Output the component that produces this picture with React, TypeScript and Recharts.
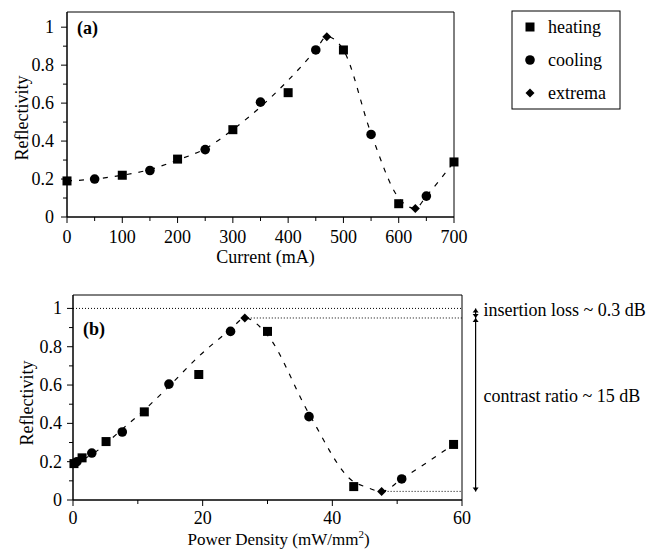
import { ComposedChart, Line, Scatter, XAxis, YAxis, ReferenceArea, ReferenceLine } from 'recharts'

// measured points (reflectivity shared between both panels)
const heatingCurrent = [0, 100, 200, 300, 400, 500, 600, 700]
const heatingPower = [0.15, 1.4, 5.1, 11.0, 19.4, 30.0, 43.3, 58.7]
const heatingRefl = [0.19, 0.22, 0.305, 0.46, 0.655, 0.88, 0.07, 0.29]

const coolingCurrent = [50, 150, 250, 350, 450, 550, 650]
const coolingPower = [0.6, 2.9, 7.6, 14.8, 24.3, 36.4, 50.7]
const coolingRefl = [0.2, 0.245, 0.355, 0.605, 0.88, 0.435, 0.11]

const extremaCurrent = [470, 630]
const extremaPower = [26.5, 47.6]
const extremaRefl = [0.95, 0.045]

// dashed guide curves
const guideCurrent = [0, 50, 100, 150, 200, 250, 300, 350, 400, 450, 470, 500, 550, 600, 630, 650, 700]
const guideCurrentRefl = [0.19, 0.2, 0.22, 0.25, 0.3, 0.36, 0.46, 0.58, 0.72, 0.88, 0.95, 0.88, 0.44, 0.1, 0.045, 0.11, 0.29]
const guidePower = [0, 3, 7.6, 11, 15, 19.4, 24.3, 26.5, 30, 36.4, 43.3, 45, 47.6, 50.7, 58.7]
const guidePowerRefl = [0.19, 0.24, 0.37, 0.47, 0.6, 0.75, 0.89, 0.95, 0.86, 0.45, 0.095, 0.07, 0.045, 0.11, 0.29]

const currentTicks = [0, 50, 100, 150, 200, 250, 300, 350, 400, 450, 500, 550, 600, 650, 700]
const powerTicks = [0, 10, 20, 30, 40, 50, 60]
const reflTicks = [0, 0.1, 0.2, 0.3, 0.4, 0.5, 0.6, 0.7, 0.8, 0.9, 1]

const FONT = '"Liberation Serif", "Times New Roman", serif'

const pts = (xs: number[], ys: number[]) => xs.map((x, i) => ({ x, y: ys[i] }))

const Square = (p: any) => <rect x={p.cx - 4.5} y={p.cy - 4.5} width={9} height={9} fill="#000" />
const Dot = (p: any) => <circle cx={p.cx} cy={p.cy} r={4.8} fill="#000" />
const Diamond = (p: any) => (
  <polygon points={`${p.cx},${p.cy - 4.5} ${p.cx + 4.5},${p.cy} ${p.cx},${p.cy + 4.5} ${p.cx - 4.5},${p.cy}`} fill="#000" />
)

function XTick(props: any) {
  const { x, y, payload, isMajor, dy } = props
  const major = isMajor(payload.value)
  return (
    <g>
      <line x1={x} y1={y} x2={x} y2={y + (major ? 6 : 4)} stroke="#000" />
      {major && (
        <text x={x} y={y + dy} textAnchor="middle" fontSize={18} fontFamily={FONT} fill="#000">{payload.value}</text>
      )}
    </g>
  )
}

function YTick(props: any) {
  const { x, y, payload, gap } = props
  const major = Math.round(payload.value * 10) % 2 === 0
  return (
    <g>
      <line x1={x - (major ? 6 : 4)} y1={y} x2={x} y2={y} stroke="#000" />
      {major && (
        <text x={x - gap} y={y + 6} textAnchor="end" fontSize={18} fontFamily={FONT} fill="#000">{payload.value}</text>
      )}
    </g>
  )
}

function Arrow(props: any) {
  const { x1, y1, y2, text, textDy } = props
  const top = Math.min(y1, y2)
  const bot = Math.max(y1, y2)
  return (
    <g>
      <line x1={x1} y1={top} x2={x1} y2={bot} stroke="#000" strokeWidth={1.2} />
      <polygon points={`${x1},${top} ${x1 - 3},${top + 4} ${x1 + 3},${top + 4}`} fill="#000" />
      <polygon points={`${x1},${bot} ${x1 - 3},${bot - 4} ${x1 + 3},${bot - 4}`} fill="#000" />
      <text x={x1 + 8} y={(top + bot) / 2 + textDy} fontSize={18} fontFamily={FONT} fill="#000">{text}</text>
    </g>
  )
}

const yLabel = (dx: number, dy: number) => (p: any) => {
  const { x, y, height } = p.viewBox
  const cx = x + dx
  const cy = y + height / 2 + dy
  return (
    <text x={cx} y={cy} transform={`rotate(-90 ${cx} ${cy})`} textAnchor="middle" fontSize={18} fontFamily={FONT} fill="#000">
      Reflectivity
    </text>
  )
}

const tag = (t: string, dx: number, dy: number) => (p: any) => (
  <text x={p.viewBox.x + dx} y={p.viewBox.y + dy} fontSize={18} fontWeight="bold" fontFamily={FONT} fill="#000">{t}</text>
)

function Legend() {
  const rows = [
    { name: 'heating', Mark: Square },
    { name: 'cooling', Mark: Dot },
    { name: 'extrema', Mark: Diamond },
  ]
  return (
    <svg width={110} height={100} style={{ position: 'absolute', left: 511, top: 10 }}>
      <rect x={1} y={1} width={108} height={98} fill="#fff" stroke="#000" />
      {rows.map((r, i) => (
        <g key={r.name}>
          <r.Mark cx={19} cy={17 + i * 33} />
          <text x={37} y={23 + i * 33} fontSize={18} fontFamily={FONT} fill="#000">{r.name}</text>
        </g>
      ))}
    </svg>
  )
}

export default function App() {
  return (
    <div style={{ position: 'absolute', left: 0, top: 0, width: 660, height: 552, background: '#fff' }}>
      <div style={{ position: 'absolute', left: 0, top: 0 }}>
        <ComposedChart width={470} height={276} margin={{ top: 12, right: 16, bottom: 19, left: 17 }}>
          <XAxis
            type="number"
            dataKey="x"
            domain={[0, 700]}
            ticks={currentTicks}
            interval={0}
            tickSize={0}
            tickMargin={0}
            tickLine={false}
            axisLine={{ stroke: '#000' }}
            height={40}
            tick={(p: any) => <XTick {...p} dy={26} isMajor={(v: number) => v % 100 === 0} />}
            label={(p: any) => (
              <text x={p.viewBox.x + p.viewBox.width / 2 + 5} y={p.viewBox.y + 46} textAnchor="middle" fontSize={18} fontFamily={FONT} fill="#000">
                Current (mA)
              </text>
            )}
          />
          <YAxis
            type="number"
            dataKey="y"
            domain={[0, 1.08]}
            ticks={reflTicks}
            interval={0}
            tickSize={0}
            tickMargin={0}
            tickLine={false}
            axisLine={{ stroke: '#000' }}
            width={50}
            tick={(p: any) => <YTick {...p} gap={13} />}
            label={yLabel(11, 3.5)}
          />
          <ReferenceArea x1={0} x2={700} y1={0} y2={1.08} fill="none" stroke="#000" ifOverflow="visible" label={tag('(a)', 10, 22)} />
          <Line data={pts(guideCurrent, guideCurrentRefl)} dataKey="y" type="monotone" stroke="#000" strokeWidth={1.2} strokeDasharray="5 7" dot={false} activeDot={false} isAnimationActive={false} />
          <Scatter data={pts(heatingCurrent, heatingRefl)} shape={Square} isAnimationActive={false} />
          <Scatter data={pts(coolingCurrent, coolingRefl)} shape={Dot} isAnimationActive={false} />
          <Scatter data={pts(extremaCurrent, extremaRefl)} shape={Diamond} isAnimationActive={false} />
        </ComposedChart>
      </div>

      <Legend />

      <div style={{ position: 'absolute', left: 0, top: 280 }}>
        <ComposedChart width={660} height={272} margin={{ top: 15, right: 198, bottom: 12, left: 23 }}>
          <XAxis
            type="number"
            dataKey="x"
            domain={[0, 60]}
            ticks={powerTicks}
            interval={0}
            tickSize={0}
            tickMargin={0}
            tickLine={false}
            axisLine={{ stroke: '#000' }}
            height={40}
            tick={(p: any) => <XTick {...p} dy={24} isMajor={(v: number) => v % 20 === 0} />}
            label={(p: any) => (
              <text x={p.viewBox.x + p.viewBox.width / 2 + 11} y={p.viewBox.y + 45} textAnchor="middle" fontSize={17} fontFamily={FONT} fill="#000">
                Power Density (mW/mm<tspan fontSize={11} dy={-7}>2</tspan><tspan dy={7}>)</tspan>
              </text>
            )}
          />
          <YAxis
            type="number"
            dataKey="y"
            domain={[0, 1.07]}
            ticks={reflTicks}
            interval={0}
            tickSize={0}
            tickMargin={0}
            tickLine={false}
            axisLine={{ stroke: '#000' }}
            width={50}
            tick={(p: any) => <YTick {...p} gap={11} />}
            label={yLabel(10, 5.5)}
          />
          <ReferenceArea x1={0} x2={60} y1={0} y2={1.07} fill="none" stroke="#000" ifOverflow="visible" label={tag('(b)', 10, 40)} />
          <ReferenceLine segment={[{ x: 0, y: 1 }, { x: 60, y: 1 }]} stroke="#000" strokeDasharray="1 2" ifOverflow="visible" />
          <ReferenceLine segment={[{ x: extremaPower[0], y: extremaRefl[0] }, { x: 60, y: extremaRefl[0] }]} stroke="#000" strokeDasharray="1 2" ifOverflow="visible" />
          <ReferenceLine segment={[{ x: extremaPower[1], y: extremaRefl[1] }, { x: 60, y: extremaRefl[1] }]} stroke="#000" strokeDasharray="1 2" ifOverflow="visible" />
          <ReferenceLine
            segment={[{ x: 62.1, y: 1 }, { x: 62.1, y: extremaRefl[0] }]}
            ifOverflow="visible"
            shape={(p: any) => <Arrow {...p} text="insertion loss ~ 0.3 dB" textDy={3} />}
          />
          <ReferenceLine
            segment={[{ x: 62.1, y: extremaRefl[0] }, { x: 62.1, y: extremaRefl[1] }]}
            ifOverflow="visible"
            shape={(p: any) => <Arrow {...p} text="contrast ratio ~ 15 dB" textDy={-3} />}
          />
          <Line data={pts(guidePower, guidePowerRefl)} dataKey="y" type="monotone" stroke="#000" strokeWidth={1.2} strokeDasharray="5 7" dot={false} activeDot={false} isAnimationActive={false} />
          <Scatter data={pts(heatingPower, heatingRefl)} shape={Square} isAnimationActive={false} />
          <Scatter data={pts(coolingPower, coolingRefl)} shape={Dot} isAnimationActive={false} />
          <Scatter data={pts(extremaPower, extremaRefl)} shape={Diamond} isAnimationActive={false} />
        </ComposedChart>
      </div>
    </div>
  )
}
